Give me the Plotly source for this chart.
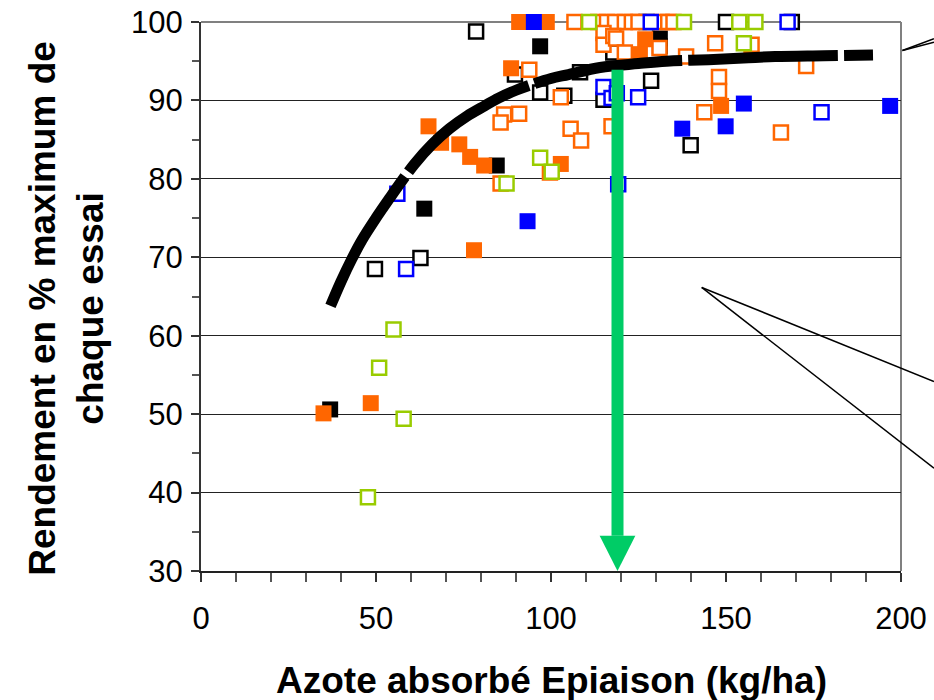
import plotly.graph_objects as go

# ---------------- data ----------------
orange_filled_x = [90.9, 98.8, 88.6, 65.0, 68.6, 73.8, 76.9, 80.9, 102.8, 78.0, 48.5, 35.0, 126.9, 125.4, 148.6, 118.0]
orange_filled_y = [100, 100, 94.1, 86.7, 84.6, 84.4, 82.8, 81.7, 81.9, 70.9, 51.4, 50.1, 97.8, 95.9, 89.3, 90.7]

orange_open_x = [106.7, 113.5, 116.0, 118.3, 121.1, 123.1, 125.0, 131.6, 133.5, 135.0,
                 115.0, 115.0, 117.8, 118.6, 121.1, 131.0, 146.9, 157.3, 138.6, 172.9,
                 93.8, 102.8, 86.6, 90.9, 85.6, 105.6, 108.6, 117.3, 99.7, 85.6,
                 148.0, 148.0, 143.8, 165.7]
orange_open_y = [100, 100, 100, 100, 100, 100, 100, 100, 100, 100,
                 98.6, 97.1, 98.2, 97.9, 96.1, 96.7, 97.3, 97.1, 95.6, 94.4,
                 93.9, 90.4, 88.2, 88.3, 87.2, 86.4, 84.9, 86.7, 80.8, 79.4,
                 93.0, 91.2, 88.5, 85.9]

black_filled_x = [96.9, 84.5, 63.8, 36.9, 150.5, 131.1, 131.1]
black_filled_y = [96.9, 81.7, 76.2, 50.6, 100, 97.9, 96.9]

black_open_x = [78.6, 89.7, 96.9, 103.8, 108.3, 115.0, 117.8, 49.7, 62.7, 128.6, 139.9, 150.0, 168.8, 127.3]
black_open_y = [98.8, 93.3, 91.0, 90.6, 93.6, 90.1, 96.1, 68.5, 69.9, 92.5, 84.3, 100, 100, 100]

blue_filled_x = [95.1, 93.3, 155.1, 196.9, 137.5, 149.9]
blue_filled_y = [100, 74.6, 89.6, 89.3, 86.4, 86.7]

blue_open_x = [56.1, 58.6, 115.0, 117.3, 124.9, 177.3, 119.2, 128.5, 167.6, 118.8]
blue_open_y = [78.1, 68.5, 91.7, 90.3, 90.4, 88.5, 79.3, 100, 100, 90.9]

green_open_x = [110.9, 138.0, 153.8, 158.4, 155.1, 96.9, 100.2, 87.3, 55.0, 50.9, 57.9, 47.7]
green_open_y = [100, 100, 100, 100, 97.3, 82.7, 80.9, 79.4, 60.8, 55.9, 49.4, 39.4]

curve_x = [37, 40, 43, 46, 50, 54, 57, 61, 66, 71, 76, 81, 85, 90, 95, 100, 105, 114, 125, 133, 145, 155, 164, 178, 192]
curve_y = [63.8, 66.9, 69.7, 72.2, 75.0, 77.6, 79.5, 81.9, 84.4, 86.4, 88.0, 89.3, 90.3, 91.3, 92.1,
           92.8, 93.3, 94.2, 94.7, 95.0, 95.2, 95.4, 95.6, 95.7, 95.8]

arrow_x = 119
arrow_top = 93.9
arrow_tip = 30

x_ticks = [0, 50, 100, 150, 200]
y_ticks = [30, 40, 50, 60, 70, 80, 90, 100]

x_title = "Azote absorbé Epiaison (kg/ha)"
y_title = "Rendement en % maximum de<br>chaque essai"

# ---------------- colours ----------------
ORANGE = "#FF6600"
BLACK = "#000000"
BLUE = "#0000FF"
GREEN = "#99CC00"
ARROW = "#00CC66"
FONT = "Liberation Sans, Arial, sans-serif"

fig = go.Figure()


def add_filled(x, y, c):
    fig.add_trace(go.Scatter(x=x, y=y, mode="markers", showlegend=False, hoverinfo="x+y",
                             cliponaxis=False,
                             marker=dict(symbol="square", size=16, color=c, line=dict(width=0))))


def add_open(x, y, c):
    fig.add_trace(go.Scatter(x=x, y=y, mode="markers", showlegend=False, hoverinfo="x+y",
                             cliponaxis=False,
                             marker=dict(symbol="square", size=14, color="white",
                                         line=dict(width=2.5, color=c))))


add_filled(black_filled_x, black_filled_y, BLACK)
add_open(black_open_x, black_open_y, BLACK)
add_filled(orange_filled_x, orange_filled_y, ORANGE)
add_open(orange_open_x, orange_open_y, ORANGE)
add_filled(blue_filled_x, blue_filled_y, BLUE)
add_open(blue_open_x, blue_open_y, BLUE)
add_open(green_open_x, green_open_y, GREEN)

fig.add_trace(go.Scatter(x=curve_x, y=curve_y, mode="lines", showlegend=False, hoverinfo="skip",
                         line=dict(color="black", width=11, dash="150px,6px", shape="spline")))

# green arrow
head_w = 5.1   # half width in x units
head_h = 4.5   # height in y units
fig.add_shape(type="line", xref="x", yref="y", x0=arrow_x, x1=arrow_x,
              y0=arrow_top, y1=arrow_tip + head_h, line=dict(color=ARROW, width=12), layer="above")
fig.add_shape(type="path", xref="x", yref="y",
              path=f"M {arrow_x - head_w},{arrow_tip + head_h} L {arrow_x + head_w},{arrow_tip + head_h} L {arrow_x},{arrow_tip} Z",
              fillcolor=ARROW, line=dict(width=0), layer="above")

# frame: top & right in grey
fig.add_shape(type="line", xref="paper", yref="paper", x0=0, x1=1, y0=1, y1=1,
              line=dict(color="#808080", width=2), layer="below")
fig.add_shape(type="line", xref="paper", yref="paper", x0=1, x1=1, y0=0, y1=1,
              line=dict(color="#808080", width=2), layer="below")

# callout pointers (cut off at the right edge)
for (xa, ya, xb, yb) in [(0.7153, 0.5165, 1.0471, 0.3451), (0.7153, 0.5165, 1.0471, 0.1872),
                         (1.002, 0.948, 1.0471, 0.9694), (1.002, 0.948, 1.0471, 0.9632)]:
    fig.add_shape(type="line", xref="paper", yref="paper", x0=xa, y0=ya, x1=xb, y1=yb,
                  line=dict(color="black", width=1.5), layer="above")

fig.add_annotation(text=x_title, xref="paper", yref="paper", x=0.5, y=-0.199,
                   xanchor="center", yanchor="middle", showarrow=False,
                   font=dict(family=FONT, size=37, color="black", weight="bold"))
fig.add_annotation(text=y_title, xref="paper", yref="paper", x=-0.1914, y=0.4777,
                   xanchor="center", yanchor="middle", showarrow=False, textangle=-90,
                   font=dict(family=FONT, size=37, color="black", weight="bold"))

fig.update_layout(
    width=934, height=700,
    margin=dict(l=201, r=33, t=22, b=129, autoexpand=False),
    paper_bgcolor="white", plot_bgcolor="white",
    showlegend=False,
    font=dict(family=FONT, color="black"),
    xaxis=dict(range=[0, 200], tickvals=x_ticks, ticks="outside", ticklen=9, tickwidth=2,
               tickcolor="#333", showline=True, linecolor="#222", linewidth=2, automargin=False,
               showgrid=False, zeroline=False, tickfont=dict(size=31, family=FONT, color="black"),
               ticklabelstandoff=10, ticklabeloverflow="allow",
               minor=dict(dtick=10, ticks="outside", ticklen=9, tickwidth=1.5, tickcolor="#555")),
    yaxis=dict(range=[30, 100], tickvals=y_ticks, ticks="outside", ticklen=8, tickwidth=2,
               tickcolor="#333", showline=True, linecolor="#333", linewidth=2, automargin=False,
               showgrid=True, gridcolor="#222", gridwidth=1, zeroline=False,
               tickfont=dict(size=31, family=FONT, color="black"), ticklabelstandoff=2,
               ticklabeloverflow="allow",
               minor=dict(dtick=5, ticks="outside", ticklen=7, tickwidth=1.5, tickcolor="#555",
                          showgrid=False)),
)

# remove the page's default 8px body margin so the figure sits at the window's corner
fig.write_html("out.html",
               config={"displayModeBar": False},
               post_script="document.body.style.margin='0';document.body.style.overflow='hidden';")
